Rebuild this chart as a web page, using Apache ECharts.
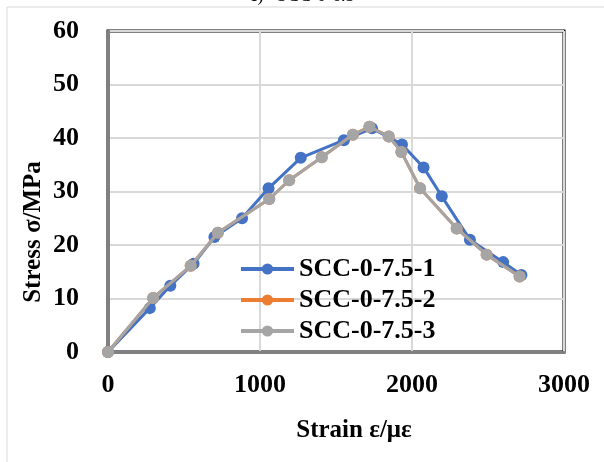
<!DOCTYPE html>
<html><head><meta charset="utf-8">
<script src="https://cdn.jsdelivr.net/npm/echarts@6/dist/echarts.min.js"></script>
<style>html,body{margin:0;padding:0;background:#fff}#c{width:604px;height:462px}</style>
</head><body><div id="c"></div>
<script>
const seriesNames = ['SCC-0-7.5-1', 'SCC-0-7.5-2', 'SCC-0-7.5-3'];
const s1Strain = [0, 275, 410, 563, 700, 882, 1056, 1268, 1552, 1737, 1934, 2076, 2196, 2381, 2600, 2720];
const s1Stress = [0, 8.2, 12.4, 16.5, 21.5, 25.0, 30.6, 36.3, 39.6, 41.8, 38.8, 34.5, 29.1, 21.0, 16.8, 14.4];
const s2Strain = [0, 297, 544, 723, 1061, 1192, 1406, 1611, 1720, 1847, 1930, 2053, 2294, 2491, 2708];
const s2Stress = [0, 10.1, 16.1, 22.3, 28.6, 32.1, 36.4, 40.6, 42.1, 40.3, 37.4, 30.6, 23.1, 18.2, 14.1];
const s3Strain = [0, 297, 544, 723, 1061, 1192, 1406, 1611, 1720, 1847, 1930, 2053, 2294, 2491, 2708];
const s3Stress = [0, 10.1, 16.1, 22.3, 28.6, 32.1, 36.4, 40.6, 42.1, 40.3, 37.4, 30.6, 23.1, 18.2, 14.1];
const xTicks = [0, 1000, 2000, 3000];
const yTicks = [0, 10, 20, 30, 40, 50, 60];
const xTitle = 'Strain ε/με';
const yTitle = 'Stress σ/MPa';
const colors = ['#4472c4', '#ed7d31', '#a5a5a5'];

const zip = (a, b) => a.map((v, i) => [v, b[i]]);
const font = 'Liberation Serif';
const chart = echarts.init(document.getElementById('c'), null, {renderer: 'canvas'});
function mk(name, data, color, z) {
  return {
    name, type: 'line', data, z,
    symbol: 'circle', symbolSize: 12,
    itemStyle: {color},
    lineStyle: {color, width: 3},
    emphasis: {disabled: true},
    animation: false
  };
}
chart.setOption({
  animation: false,
  graphic: [
    {type: 'rect', shape: {x: 7, y: 7, width: 620, height: 480}, style: {fill: 'none', stroke: '#d9d9d9', lineWidth: 1}, z: -10},
    {type: 'text', left: 'center', top: -13, style: {text: 'c)   SCC-0-6.5', font: '18px "Liberation Serif"', fill: '#000'}},
    {type: 'text', x: 354, y: 431, style: {text: xTitle, font: 'bold 25px "Liberation Serif"', fill: '#000', align: 'center', verticalAlign: 'middle'}},
    {type: 'text', x: 34, y: 232, rotation: Math.PI / 2, style: {text: yTitle, font: 'bold 25px "Liberation Serif"', fill: '#000', align: 'center', verticalAlign: 'middle'}}
  ],
  grid: {left: 108, right: 40, top: 31, bottom: 110, show: true, borderColor: '#000', borderWidth: 3, containLabel: false},
  legend: {
    data: seriesNames,
    orient: 'vertical',
    left: 239, top: 256, padding: 0,
    itemWidth: 53, itemHeight: 14, itemGap: 5,
    lineStyle: {width: 4},
    textStyle: {fontFamily: font, fontWeight: 'bold', fontSize: 26, color: '#000'}
  },
  xAxis: {
    type: 'value', min: 0, max: 3000, interval: 1000,
    axisLine: {show: true, onZero: false, lineStyle: {color: '#808080', width: 3}},
    axisTick: {show: false},
    axisLabel: {margin: 20, fontFamily: font, fontWeight: 'bold', fontSize: 26, color: '#000',
      formatter: v => xTicks.includes(v) ? String(v) : ''},
    splitLine: {show: true, lineStyle: {color: '#d9d9d9', width: 2}}
  },
  yAxis: {
    type: 'value', min: 0, max: 60, interval: 10,
    axisLine: {show: true, lineStyle: {color: '#808080', width: 3}},
    axisTick: {show: false},
    axisLabel: {margin: 29, fontFamily: font, fontWeight: 'bold', fontSize: 26, color: '#000',
      formatter: v => yTicks.includes(v) ? String(v) : ''},
    splitLine: {show: true, lineStyle: {color: '#d9d9d9', width: 2}}
  },
  series: [
    mk(seriesNames[0], zip(s1Strain, s1Stress), colors[0], 3),
    mk(seriesNames[1], zip(s2Strain, s2Stress), colors[1], 4),
    mk(seriesNames[2], zip(s3Strain, s3Stress), colors[2], 5)
  ]
});
</script></body></html>
